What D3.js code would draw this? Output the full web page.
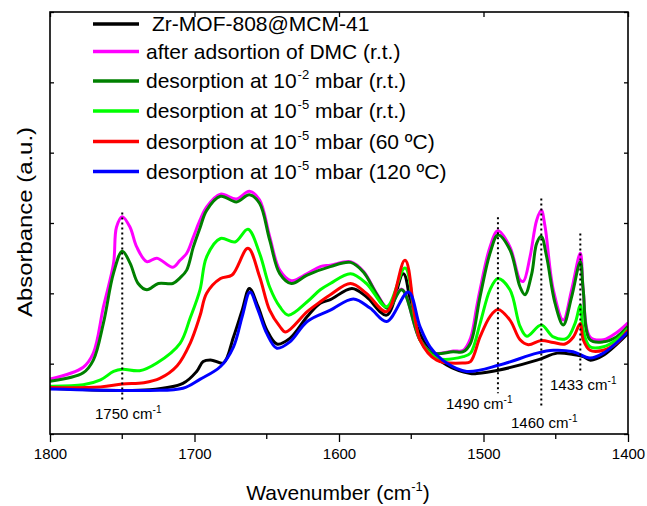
<!DOCTYPE html>
<html><head><meta charset="utf-8">
<script src="https://cdn.jsdelivr.net/npm/d3@7"></script>
<style>
html,body{margin:0;padding:0;background:#fff;}
svg{display:block;font-family:"Liberation Sans",Arial,sans-serif;}
</style></head>
<body><svg id="chart" width="647" height="506"></svg>
<script>
// ---- data (wavenumber cm-1, absorbance a.u.) ----
const mofBase = [[1800,0.65],[1731,0.63],[1708,0.72],[1698.5,0.89],[1694,1.03],[1688,1.05],[1680,1.01],[1673,1.38],[1667,1.76],[1662,2.07],[1656,1.81],[1650,1.48],[1643,1.28],[1634,1.36],[1622,1.67],[1613,1.86],[1606,1.91],[1591,2.07],[1581,1.95],[1567,1.69],[1555.5,2.28],[1548.6,1.67],[1539,1.24],[1525.5,0.98],[1509,0.86],[1504.7,0.86],[1489,0.91],[1463,1.05],[1449,1.15],[1438,1.13],[1431,1.10],[1426,1.05],[1417,1.12],[1400,1.43]];
const afterDMC = [[1800,0.78],[1777,0.95],[1770,1.15],[1763,1.81],[1756,2.43],[1754,2.94],[1750,3.09],[1744.6,2.94],[1740,2.66],[1733,2.45],[1726,2.50],[1715,2.37],[1710,2.47],[1705.4,2.57],[1700.8,2.80],[1696.2,3.04],[1691.6,3.23],[1682,3.41],[1671,3.34],[1662,3.45],[1655,3.33],[1648,2.81],[1641,2.33],[1633,2.18],[1622,2.28],[1613,2.38],[1606,2.40],[1592,2.45],[1583,2.31],[1574,2.00],[1566,1.79],[1556.6,2.06],[1544,1.34],[1535,1.15],[1521,1.18],[1514,1.19],[1509,1.36],[1504.7,1.81],[1502.4,2.05],[1495.5,2.66],[1490,2.89],[1481.7,2.66],[1474.7,2.19],[1472.4,2.17],[1467.8,2.52],[1463.2,3.04],[1460,3.18],[1457.4,2.95],[1451.7,2.05],[1444.8,1.62],[1439,2.05],[1433,2.57],[1431,2.05],[1426.3,1.38],[1417,1.34],[1408,1.44],[1400,1.58]];
const des2rt = [[1800,0.75],[1777,0.87],[1770,1.05],[1763,1.58],[1756,2.29],[1750,2.60],[1744.6,2.43],[1739,2.14],[1733,2.05],[1725,2.14],[1715,2.14],[1710,2.22],[1705.4,2.33],[1700.8,2.66],[1696.2,2.93],[1691.6,3.18],[1682,3.38],[1671,3.30],[1662,3.40],[1655,3.28],[1648,2.76],[1641,2.28],[1633,2.14],[1622,2.26],[1606,2.38],[1592,2.44],[1583,2.30],[1574,1.99],[1566,1.78],[1556.6,2.05],[1544,1.34],[1535,1.15],[1521,1.17],[1514,1.17],[1509,1.29],[1502.4,1.95],[1495.5,2.57],[1490,2.83],[1481.7,2.62],[1474.7,2.09],[1471.3,1.98],[1466.6,2.28],[1463.2,2.71],[1460,2.81],[1456.3,2.52],[1450.5,1.86],[1444.8,1.55],[1439,1.95],[1433,2.45],[1431,2.05],[1426.3,1.34],[1417,1.31],[1408,1.38],[1400,1.53]];
const des5rt = [[1800,0.68],[1777,0.70],[1765,0.77],[1756,0.89],[1750,0.92],[1738,0.90],[1726,1.01],[1710,1.29],[1703,1.65],[1696.2,2.05],[1691.6,2.52],[1682,2.78],[1672,2.73],[1663,2.91],[1655,2.57],[1648,2.09],[1641,1.81],[1635,1.69],[1622,1.88],[1613,2.05],[1606,2.14],[1592,2.28],[1581,2.14],[1567,1.81],[1554.3,2.36],[1544,1.34],[1532.4,1.08],[1514,1.10],[1509,1.15],[1502.4,1.57],[1495.5,2.05],[1490,2.21],[1481.7,2.05],[1474.7,1.53],[1470,1.39],[1460,1.55],[1451.7,1.38],[1442.5,1.36],[1436.7,1.57],[1433,1.83],[1431,1.48],[1426.3,1.24],[1417,1.24],[1408,1.34],[1400,1.50]];
const des5_60 = [[1800,0.66],[1765,0.67],[1750,0.71],[1735,0.73],[1724,0.79],[1712,0.97],[1703,1.29],[1696.2,1.68],[1691.6,2.00],[1682,2.21],[1674,2.26],[1663,2.64],[1655,2.24],[1648,1.76],[1641,1.53],[1637,1.45],[1622,1.74],[1613,1.88],[1606,1.98],[1592,2.14],[1581,2.00],[1567,1.74],[1554.3,2.47],[1544,1.34],[1532.4,1.05],[1514,1.01],[1509,1.03],[1502.4,1.38],[1495.5,1.67],[1490,1.77],[1481.7,1.62],[1474.7,1.34],[1469,1.27],[1460,1.33],[1451.7,1.30],[1443.6,1.28],[1437.8,1.38],[1433,1.57],[1431,1.34],[1426.3,1.19],[1417,1.19],[1408,1.29],[1400,1.48]];
const des5_120 = [[1800,0.64],[1731,0.62],[1708,0.65],[1696,0.78],[1682,0.96],[1673,1.24],[1667,1.67],[1661.6,2.02],[1656,1.76],[1650,1.43],[1643,1.22],[1634,1.31],[1622,1.60],[1606,1.76],[1590,1.92],[1578.5,1.79],[1567,1.60],[1552,2.02],[1544,1.53],[1537,1.24],[1525.5,1.01],[1511.6,0.89],[1489,0.98],[1463,1.15],[1451.7,1.19],[1438,1.17],[1426.3,1.08],[1417,1.15],[1400,1.45]];

const seriesNames = ["Zr-MOF-808@MCM-41","after adsortion of DMC (r.t.)","desorption at 10-2 mbar (r.t.)","desorption at 10-5 mbar (r.t.)","desorption at 10-5 mbar (60 ºC)","desorption at 10-5 mbar (120 ºC)"];
const seriesColors = ["#000000","#ff00ff","#008000","#00ff00","#ff0000","#0000ff"];
const seriesData = [mofBase, afterDMC, des2rt, des5rt, des5_60, des5_120];
const drawOrder = [0,1,2,3,4,5];

const xTicks = [1800,1700,1600,1500,1400];
const xMinorTicks = [1750,1650,1550,1450];
const yTicks = [0,1,2,3,4,5,6];
const peakMarks = [1750,1490,1460,1433];
const peakTop = [3.15,3.08,3.35,2.85];
const peakBottom = [0.48,0.58,0.37,0.88];

// ---- layout ----
const svg = d3.select("#chart");
const L=50, R=628, T=12, B=434;
const x = d3.scaleLinear().domain([1800,1400]).range([L,R]);
const y = d3.scaleLinear().domain([0,6]).range([B,T]);

svg.append("defs").append("clipPath").attr("id","clip")
  .append("rect").attr("x",L).attr("y",T).attr("width",R-L).attr("height",B-T);

const line = d3.line().x(d=>x(d[0])).y(d=>y(d[1])).curve(d3.curveCatmullRom.alpha(0.5));

const g = svg.append("g").attr("clip-path","url(#clip)");
drawOrder.forEach(i=>{
  g.append("path").datum(seriesData[i]).attr("d",line)
   .attr("fill","none").attr("stroke",seriesColors[i]).attr("stroke-width",3)
   .attr("stroke-linejoin","round");
});

// dotted peak markers
peakMarks.forEach((p,i)=>{
  svg.append("line").attr("x1",x(p)).attr("x2",x(p))
    .attr("y1",y(peakTop[i])).attr("y2",y(peakBottom[i]))
    .attr("stroke","#000").attr("stroke-width",2).attr("stroke-dasharray","2,3");
});

// axes
const xAxis = d3.axisBottom(x).tickValues(xTicks).tickSize(8).tickPadding(6).tickFormat(d3.format("d"));
const gx = svg.append("g").attr("transform",`translate(0,${B})`).call(xAxis);
gx.selectAll("text").attr("font-size",15).attr("font-family","'Liberation Sans',Arial,sans-serif");
xMinorTicks.forEach(t=>gx.append("line").attr("x1",x(t)).attr("x2",x(t)).attr("y1",0).attr("y2",5).attr("stroke","#000").attr("stroke-width",1.3));
const xTop = d3.axisTop(x).tickValues(xTicks).tickSize(-5).tickFormat("");
svg.append("g").attr("transform",`translate(0,${T})`).call(xTop);
const yLeft = d3.axisLeft(y).tickValues(yTicks).tickSize(-4).tickFormat("");
svg.append("g").attr("transform",`translate(${L},0)`).call(yLeft);
const yRight = d3.axisRight(y).tickValues(yTicks).tickSize(-4).tickFormat("");
svg.append("g").attr("transform",`translate(${R},0)`).call(yRight);
svg.selectAll(".domain").remove();
svg.selectAll(".tick line").attr("stroke","#000").attr("stroke-width",1.3);
svg.append("rect").attr("x",L).attr("y",T).attr("width",R-L).attr("height",B-T)
  .attr("fill","none").attr("stroke","#000").attr("stroke-width",1.6);

// axis titles
const xt = svg.append("text").attr("x",338).attr("y",500).attr("text-anchor","middle").attr("font-size",21);
xt.append("tspan").text("Wavenumber (cm");
xt.append("tspan").attr("dy",-9).attr("font-size",13).text("-1");
xt.append("tspan").attr("dy",9).text(")");
svg.append("text").attr("transform","translate(32,222) rotate(-90)").attr("text-anchor","middle")
  .attr("font-size",21).attr("textLength",190).attr("lengthAdjust","spacingAndGlyphs")
  .text("Absorbance (a.u.)");

// legend
const legY = [24,51.5,81,111,141.5,171.5];
seriesNames.forEach((name,i)=>{
  svg.append("line").attr("x1",93).attr("x2",139).attr("y1",legY[i]).attr("y2",legY[i])
    .attr("stroke",seriesColors[i]).attr("stroke-width",3.5);
  const t = svg.append("text").attr("x",i===0?152:146).attr("y",legY[i]+7).attr("font-size",21);
  const m = name.match(/^(.*10)(-\d)(.*)$/);
  if(m){
    t.append("tspan").text(m[1]);
    t.append("tspan").attr("dx",1).attr("dy",-9).attr("font-size",13).text(m[2]);
    t.append("tspan").attr("dy",9).text(m[3]);
  } else t.text(name);
});

// peak labels
const peakLabels = [[1750,95,419],[1490,446,409],[1460,511,428],[1433,550,390]];
peakLabels.forEach(([p,lx,ly])=>{
  const t = svg.append("text").attr("x",lx).attr("y",ly).attr("font-size",15);
  t.append("tspan").text(p+" cm");
  t.append("tspan").attr("dy",-6).attr("font-size",10).text("-1");
});
</script></body></html>
